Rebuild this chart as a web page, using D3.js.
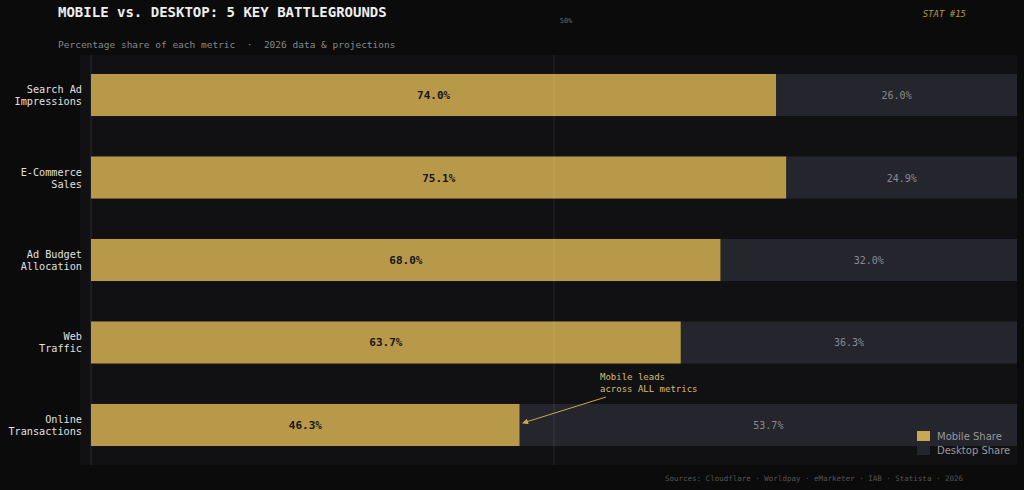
<!DOCTYPE html><html><head><meta charset="utf-8">
<script src="https://cdn.jsdelivr.net/npm/d3@7"></script>
<style>body{margin:0;background:#0b0b0b}</style></head><body>
<svg width="1024" height="490"></svg>
<script>
const categories=["Search Ad\nImpressions","E-Commerce\nSales","Ad Budget\nAllocation","Web\nTraffic","Online\nTransactions"];
const mobile=[74.0,75.1,68.0,63.7,46.3];
const desktop=[26.0,24.9,32.0,36.3,53.7];
const mono="DejaVu Sans Mono, monospace";
const svg=d3.select("svg");
svg.append("rect").attr("width",1024).attr("height",490).attr("fill","#0b0b0b");
const L=91,R=1017,T=55,B=465;
svg.append("rect").attr("x",80).attr("y",T).attr("width",R-80).attr("height",B-T).attr("fill","#111114");
const x=d3.scaleLinear().domain([0,100]).range([L,R]);
const y=d3.scaleBand().domain(categories).range([T,B]).paddingInner(0.49).paddingOuter(0.23);
svg.append("line").attr("x1",L).attr("x2",L).attr("y1",T).attr("y2",B).attr("stroke","#2a2a2e");
const g=svg.selectAll("g.r").data(categories).enter().append("g");
g.append("rect").attr("x",x(0)).attr("y",d=>y(d)).attr("height",y.bandwidth()).attr("width",(d,i)=>x(mobile[i])-x(0)).attr("fill","#b8994a");
g.append("rect").attr("x",(d,i)=>x(mobile[i])).attr("y",d=>y(d)).attr("height",y.bandwidth()).attr("width",(d,i)=>x(100)-x(mobile[i])).attr("fill","#25252d");
g.append("text").attr("x",(d,i)=>x(mobile[i]/2)).attr("y",d=>y(d)+y.bandwidth()/2+4).attr("text-anchor","middle").attr("font-family",mono).attr("font-weight","bold").attr("font-size",11).attr("fill","#151515").text((d,i)=>mobile[i].toFixed(1)+"%");
g.append("text").attr("x",(d,i)=>x(mobile[i]+desktop[i]/2)).attr("y",d=>y(d)+y.bandwidth()/2+4).attr("text-anchor","middle").attr("font-family",mono).attr("font-size",10).attr("fill","#8a8a92").text((d,i)=>desktop[i].toFixed(1)+"%");
g.each(function(d){const ls=d.split("\n");const t=d3.select(this).append("text").attr("text-anchor","end").attr("font-family",mono).attr("font-size",10.2).attr("fill","#e0e0e0");
ls.forEach((l,k)=>t.append("tspan").attr("x",82).attr("y",y(d)+y.bandwidth()/2+(k-0.5)*12+4).text(l));});
svg.append("line").attr("x1",x(50)).attr("x2",x(50)).attr("y1",T).attr("y2",B).attr("stroke","#ffffff").attr("stroke-opacity",0.08);
svg.append("text").attr("x",x(50)+12).attr("y",23).attr("text-anchor","middle").attr("font-family",mono).attr("font-size",7).attr("fill","#666").text("50%");
svg.append("text").attr("x",58).attr("y",17).attr("font-family",mono).attr("font-weight","bold").attr("font-size",14).attr("fill","#eeeeee").text("MOBILE vs. DESKTOP: 5 KEY BATTLEGROUNDS");
svg.append("text").attr("x",58).attr("y",48).attr("xml:space","preserve").style("white-space","pre").attr("font-family",mono).attr("font-size",9.5).attr("fill","#888").text("Percentage share of each metric  ·  2026 data & projections");
svg.append("text").attr("x",966).attr("y",17).attr("text-anchor","end").attr("font-family",mono).attr("font-style","italic").attr("font-size",9).attr("fill","#b8994a").text("STAT #15");
svg.append("text").attr("x",600).attr("y",380).attr("font-family",mono).attr("font-size",9).attr("fill","#d8bc6e").text("Mobile leads");
svg.append("text").attr("x",600).attr("y",392).attr("font-family",mono).attr("font-size",9).attr("fill","#d8bc6e").text("across ALL metrics");
svg.append("defs").append("marker").attr("id","ar").attr("viewBox","0 0 10 10").attr("refX",9).attr("refY",5).attr("markerWidth",6).attr("markerHeight",6).attr("orient","auto").append("path").attr("d","M0,0L10,5L0,10z").attr("fill","#c8a850");
svg.append("line").attr("x1",606).attr("y1",397).attr("x2",x(mobile[4])+3).attr("y2",423).attr("stroke","#c8a850").attr("stroke-width",1).attr("marker-end","url(#ar)");
const lg=[["Mobile Share","#c8a850"],["Desktop Share","#25252d"]];
lg.forEach((l,i)=>{svg.append("rect").attr("x",917).attr("y",431+i*14).attr("width",13).attr("height",10).attr("fill",l[1]);
svg.append("text").attr("x",937).attr("y",440+i*14).attr("font-family","DejaVu Sans, sans-serif").attr("font-size",10).attr("fill","#999").text(l[0]);});
svg.append("text").attr("x",814).attr("y",481).attr("text-anchor","middle").attr("font-family",mono).attr("font-size",7.5).attr("fill","#555").text("Sources: Cloudflare · Worldpay · eMarketer · IAB · Statista · 2026");
</script></body></html>
